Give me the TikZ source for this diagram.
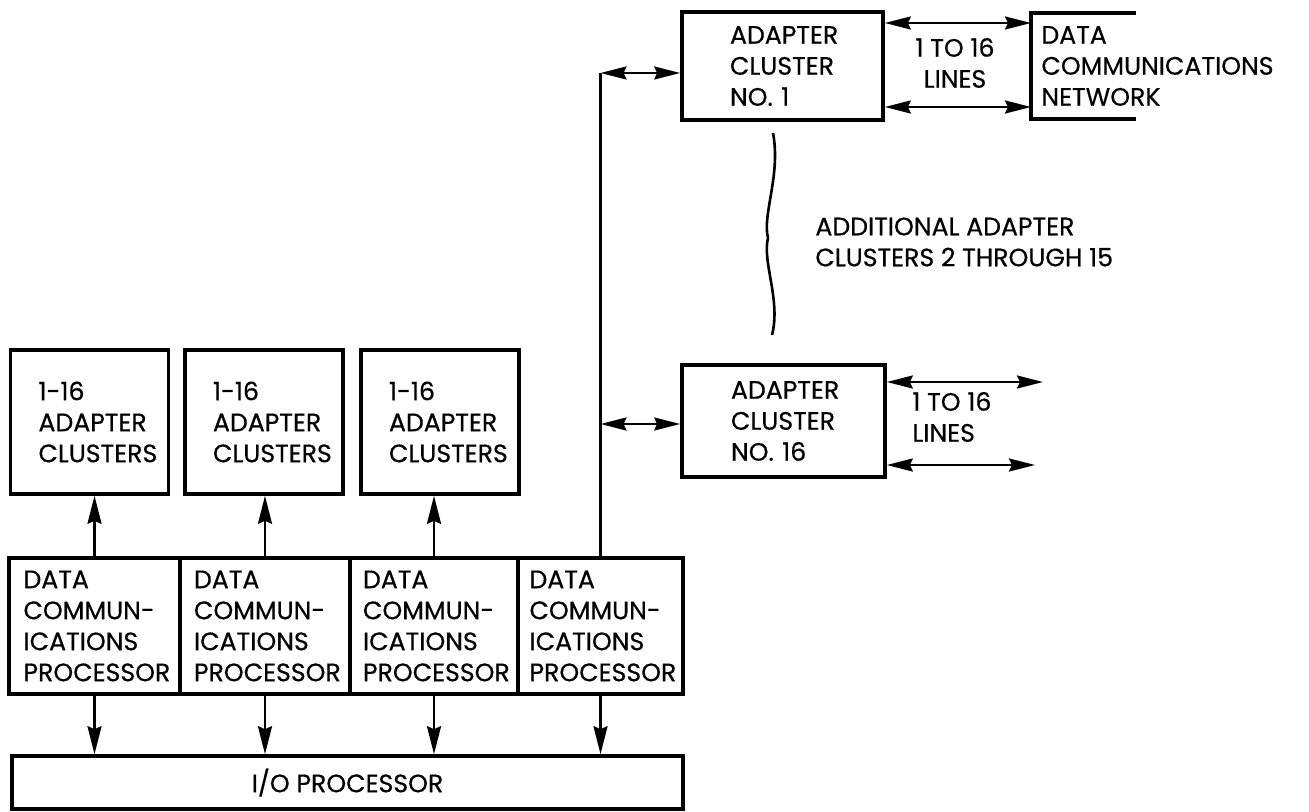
\documentclass[tikz,border=0pt]{standalone}
\usepackage{fontspec}
\setmainfont{Poppins}[FakeBold=0.5]
\usepackage{tikz}
\usetikzlibrary{arrows.meta,positioning,calc}
\tikzset{
  box/.style={draw, line width=1.8pt, inner xsep=0pt, inner ysep=0pt, align=left, font=\fontsize{12.6pt}{15.5pt}\selectfont},
  lbl/.style={inner sep=0pt, align=left, font=\fontsize{12.6pt}{15.5pt}\selectfont},
  arrow/.style={-{Stealth[length=14pt, width=7pt, inset=1.5pt]}, line width=1.2pt},
  dblarrow/.style={{Stealth[length=13pt, width=6.5pt, inset=1.5pt]}-{Stealth[length=13pt, width=6.5pt, inset=1.5pt]}, line width=1.2pt},
  bus/.style={line width=1.3pt}
}
\begin{document}
\begin{tikzpicture}[x=0.5pt, y=-0.5pt]
  \useasboundingbox (0,0) rectangle (1309,812);
  \foreach \n/\x/\w in {1/94.5/85.5, 2/265/85, 3/434/84, 4/600.5/82.5} {
    \node[box, minimum width=\w pt, minimum height=68pt, text width=71pt] (dcp\n) at (\x,626) {DATA\\COMMUN-\\ICATIONS\\PROCESSOR};
  }
  \foreach \n/\x in {1/89.5, 2/264, 3/440} {
    \node[box, minimum width=79pt, minimum height=72pt, text width=51pt] (ac\n) at (\x,422) {1-16\\ADAPTER\\CLUSTERS};
    \draw[arrow] (dcp\n.north) -- (dcp\n.north |- ac\n.south);
  }
  \node[box, minimum width=335.5pt, minimum height=26.5pt, align=center] (iop) at (347.5,782.5) {I/O PROCESSOR};
  \foreach \n in {1,...,4}
    \draw[arrow] (dcp\n.south) -- (dcp\n.south |- iop.north);

  \node[box, minimum width=100.5pt, minimum height=54pt, text width=52.5pt] (c1) at (782.5,66) {ADAPTER\\CLUSTER\\NO. 1};
  \node[box, minimum width=101.5pt, minimum height=56pt, text width=52.5pt] (c16) at (783.5,421) {ADAPTER\\CLUSTER\\NO. 16};

  \coordinate (bus1) at (600.5,73);
  \coordinate (bus16) at (600.5,424);
  \draw[bus] (dcp4.north) -- (bus1);
  \draw[dblarrow] (bus1) -- (c1.west |- bus1);
  \draw[dblarrow] (bus16) -- (c16.west |- bus16);

  \node[lbl, anchor=west] (net) at (1041,66) {DATA\\COMMUNICATIONS\\NETWORK};
  \draw[line width=1.8pt] (1136,13) -- (1031,13) -- (1031,119) -- (1136,119);
  \coordinate (netT) at (1031,23);
  \coordinate (netB) at (1031,107);
  \draw[dblarrow] (c1.east |- netT) -- (netT);
  \draw[dblarrow] (c1.east |- netB) -- (netB);
  \node[lbl, align=center] (l1) at (955,63) {1 TO 16\\LINES};

  \coordinate (out16T) at (1043,382);
  \coordinate (out16B) at (1035,465);
  \draw[dblarrow] (c16.east |- out16T) -- (out16T);
  \draw[dblarrow] (c16.east |- out16B) -- (out16B);
  \node[lbl, anchor=west] (l16) at (912,417) {1 TO 16\\LINES};

  \draw[line width=1.3pt] (773,133) .. controls (781,175) and (762,215) .. (768,238) .. controls (762,262) and (781,300) .. (772,335);
  \node[lbl, anchor=west] (more) at (815,242) {ADDITIONAL ADAPTER\\CLUSTERS 2 THROUGH 15};
\end{tikzpicture}
\end{document}
